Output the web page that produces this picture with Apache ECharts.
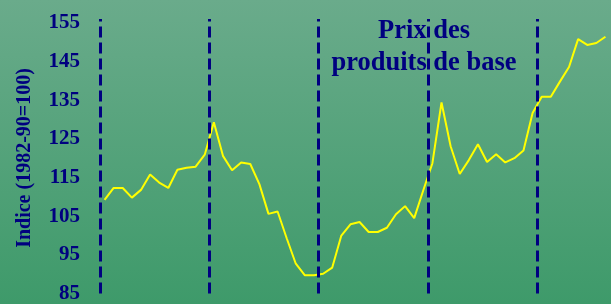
<!DOCTYPE html>
<html>
<head>
<meta charset="utf-8">
<script src="https://cdn.jsdelivr.net/npm/echarts@6/dist/echarts.min.js"></script>
<style>
  html, body { margin: 0; padding: 0; }
  #chart { width: 611px; height: 304px; }
</style>
</head>
<body>
<div id="chart"></div>
<script>
  // trimestres 1985 T1 .. 1998 T4
  let years = [1985, 1986, 1987, 1988, 1989, 1990, 1991, 1992, 1993, 1994, 1995, 1996, 1997, 1998];
  let quarters = [];
  years.forEach(y => { for (let q = 1; q <= 4; q++) quarters.push(y + 'T' + q); });

  let indexValues = [
    109.2, 112.3, 112.3, 109.8,
    111.8, 115.8, 113.7, 112.3,
    117.0, 117.5, 117.8, 120.9,
    129.3, 120.6, 116.9, 118.9,
    118.5, 113.3, 105.6, 106.2,
    99.3, 92.7, 89.7, 89.7,
    90.1, 91.7, 100.0, 102.9,
    103.5, 100.9, 100.9, 102.0,
    105.5, 107.6, 104.5, 111.7,
    118.7, 134.4, 123.1, 115.9,
    119.5, 123.6, 119.0, 121.0,
    118.9, 120.0, 122.0, 131.7,
    135.9, 135.9, 139.8, 143.6,
    150.8, 149.3, 149.8, 151.4
  ];

  let dividers = [1985, 1988, 1991, 1994, 1997];
  let yTicks = [85, 95, 105, 115, 125, 135, 145, 155];

  let seriesData = quarters.map((label, i) => {
    let parts = label.split('T');
    return [Number(parts[0]) + (Number(parts[1]) - 0.5) / 4, indexValues[i]];
  });

  let navy = '#000080';
  let serif = '"Liberation Serif", "DejaVu Serif", serif';

  let myChart = echarts.init(document.getElementById('chart'));
  let option = {
    animation: false,
    backgroundColor: {
      type: 'linear', x: 0, y: 0, x2: 0, y2: 1,
      colorStops: [
        { offset: 0, color: '#6aab8b' },
        { offset: 1, color: '#3e9a6a' }
      ]
    },
    grid: { left: 100, right: 1, top: 19, bottom: 9 },
    xAxis: {
      type: 'value',
      min: 1985,
      max: 1999,
      show: false
    },
    yAxis: {
      type: 'value',
      min: yTicks[0],
      max: 156,
      interval: 10,
      axisLine: { show: false },
      axisTick: { show: false },
      splitLine: { show: false },
      axisLabel: {
        margin: 20,
        showMaxLabel: false,
        padding: [5, 0, 0, 0],
        color: navy,
        fontFamily: serif,
        fontWeight: 'bold',
        fontSize: 21
      }
    },
    graphic: [
      {
        type: 'text',
        x: 25,
        y: 158,
        rotation: Math.PI / 2,
        style: {
          text: 'Indice (1982-90=100)',
          fill: navy,
          font: 'bold 20px ' + serif,
          align: 'center',
          verticalAlign: 'middle'
        }
      },
      {
        type: 'text',
        x: 424,
        y: 15,
        z: 10,
        style: {
          text: 'Prix des\nproduits de base',
          fill: navy,
          font: 'bold 26.5px ' + serif,
          lineHeight: 32,
          align: 'center',
          verticalAlign: 'top'
        }
      }
    ],
    series: [
      {
        type: 'line',
        data: seriesData,
        symbol: 'none',
        lineStyle: { color: '#ffff00', width: 2 },
        markLine: {
          silent: true,
          symbol: 'none',
          label: { show: false },
          lineStyle: { color: navy, width: 3, type: [11, 5] },
          data: dividers.map(d => ({ xAxis: d }))
        }
      }
    ]
  };
  myChart.setOption(option);
</script>
</body>
</html>
